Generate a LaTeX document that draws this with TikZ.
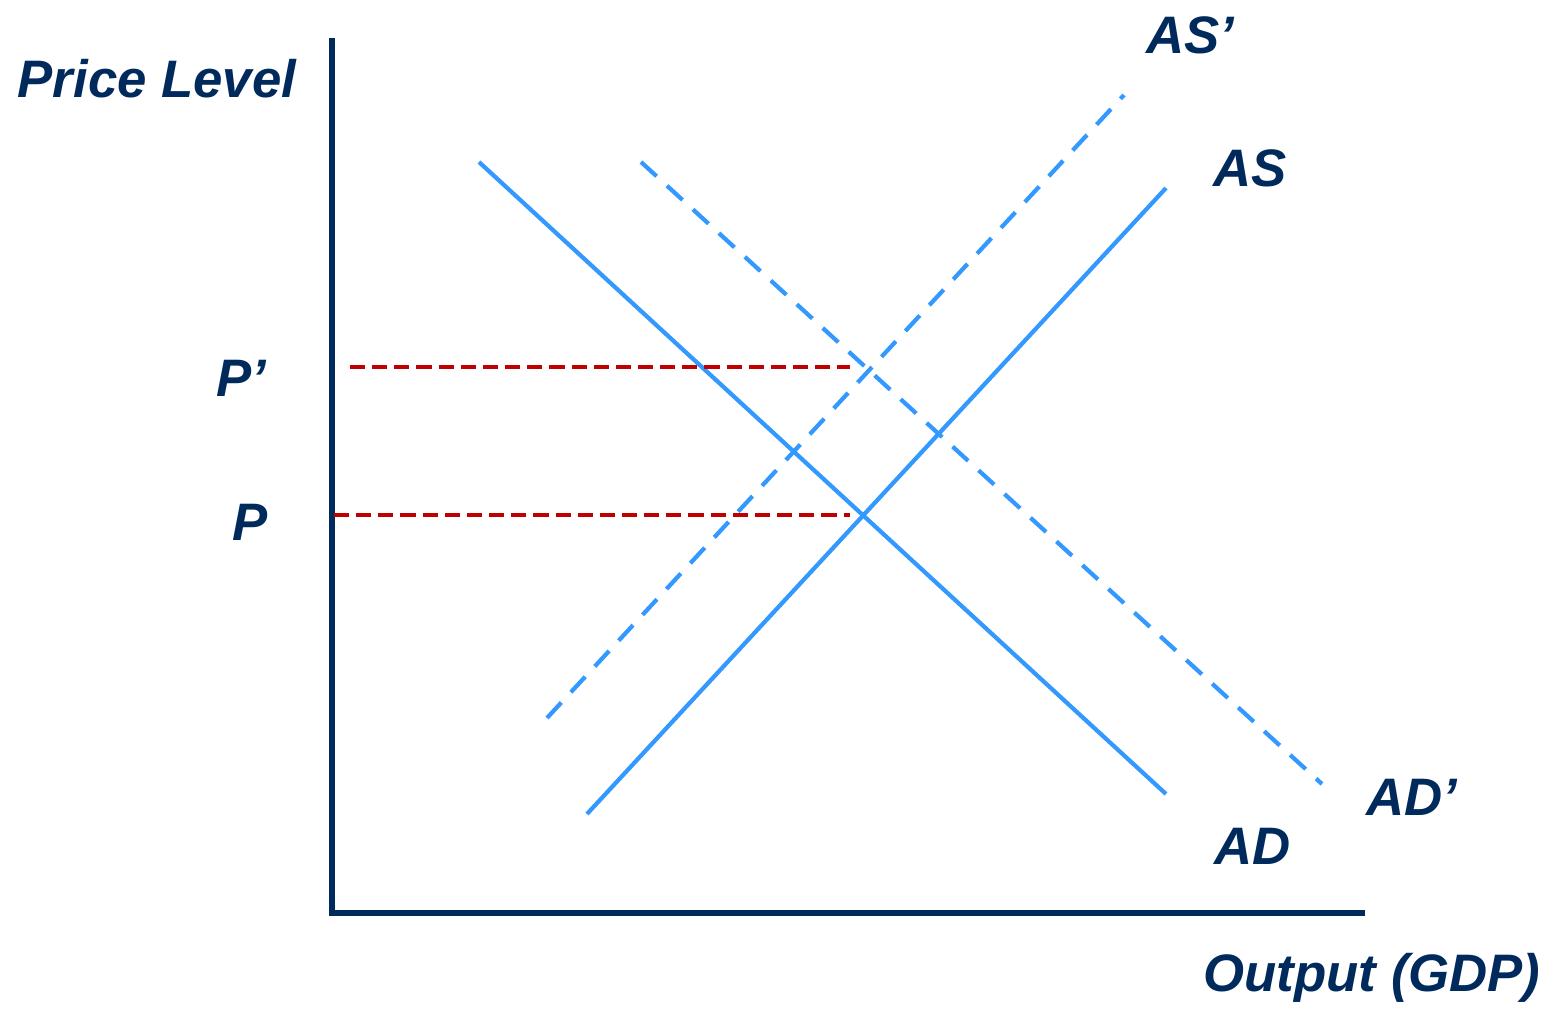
\documentclass[tikz,border=0pt]{standalone}
\usepackage{fontspec}
\setmainfont{Liberation Sans}
\definecolor{navy}{RGB}{0,42,92}
\definecolor{curveblue}{RGB}{51,153,255}
\definecolor{dashred}{RGB}{192,0,0}
\begin{document}
\begin{tikzpicture}[x=0.01cm,y=-0.01cm,
  lbl/.style={text=navy,font=\fontsize{15}{18}\selectfont\bfseries\itshape,inner sep=0pt},
  axis/.style={draw=navy,line width=1.5pt},
  curve/.style={draw=curveblue,line width=1.2pt},
  shifted/.style={curve,dash pattern=on 6pt off 4pt},
  guide/.style={draw=dashred,line width=1.1pt,dash pattern=on 4.3pt off 2pt}]
\useasboundingbox (0,0) rectangle (1547,1008);
% axes
\coordinate (ytop) at (332,38);
\coordinate (origin) at (332,913);
\coordinate (xend) at (1365,913);
\draw[axis] (ytop) -- (origin) -- (xend);
% curves
\coordinate (ad1) at (479,162);
\coordinate (ad2) at (1166,794);
\coordinate (as1) at (587,814);
\coordinate (as2) at (1166,188);
\coordinate (asp1) at (547,718);
\coordinate (asp2) at (1124,95);
\coordinate (adp1) at (641,162);
\coordinate (adp2) at (1322,784);
\draw[curve] (ad1) -- (ad2);
\draw[curve] (as1) -- (as2);
\draw[shifted] (asp1) -- (asp2);
\draw[shifted] (adp1) -- (adp2);
% price guides
\coordinate (pp1) at (350,367);
\coordinate (pp2) at (850,367);
\coordinate (p1) at (334,515);
\coordinate (p2) at (850,515);
\draw[guide] (pp1) -- (pp2);
\draw[guide] (p1) -- (p2);
% labels
\node[lbl] (price) at (157,79) {Price Level};
\node[lbl] (lasp) at (1190,35) {AS’};
\node[lbl] (las) at (1250,168) {AS};
\node[lbl] (lpp) at (241,378) {P’};
\node[lbl] (lp) at (250,522) {P};
\node[lbl] (ladp) at (1412,797) {AD’};
\node[lbl] (lad) at (1253,846) {AD};
\node[lbl] (lout) at (1372,978) {Output (GDP)};
\end{tikzpicture}
\end{document}
